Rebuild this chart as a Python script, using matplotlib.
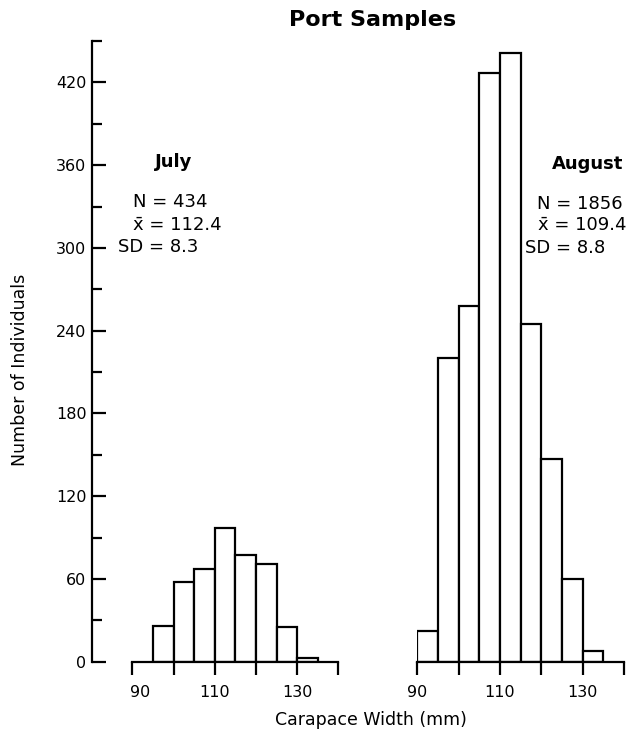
import matplotlib
matplotlib.use("Agg")
import matplotlib.pyplot as plt
from matplotlib.transforms import ScaledTranslation

# ---- data ----
july_bin_left = [95, 100, 105, 110, 115, 120, 125, 130]
july_counts = [26, 58, 67, 97, 77, 71, 25, 3]
aug_bin_left = [90, 95, 100, 105, 110, 115, 120, 125, 130]
aug_counts = [22, 220, 258, 427, 441, 245, 147, 60, 8]
bin_width = 5

x_ticks = [90, 100, 110, 120, 130, 140]
x_ticklabels = ["90", "", "110", "", "130", ""]
y_major = [0, 60, 120, 180, 240, 300, 360, 420]
y_minor = [30, 90, 150, 210, 270, 330, 390, 450]

july_stats = ["July", "N = 434", "x\u0304 = 112.4", "SD = 8.3"]
aug_stats = ["August", "N = 1856", "x\u0304 = 109.4", "SD = 8.8"]

plt.rcParams["font.family"] = ["DejaVu Sans"]

W, H = 643, 733
fig = plt.figure(figsize=(W / 100, H / 100), dpi=100)
fig.patch.set_facecolor("white")

TOP, BOT = 41, 661.7


def px_axes(x0, x1):
    return fig.add_axes([x0 / W, 1 - BOT / H, (x1 - x0) / W, (BOT - TOP) / H])


LW = 1.6

# y axis (separate spine)
ax_y = px_axes(92, 93)
ax_y.set_ylim(0, 450)
for s in ["top", "right", "bottom"]:
    ax_y.spines[s].set_visible(False)
ax_y.spines["left"].set_linewidth(LW)
ax_y.set_xticks([])
ax_y.set_yticks(y_major)
ax_y.set_yticks(y_minor, minor=True)
ax_y.tick_params(axis="y", which="major", direction="in", length=10, width=LW,
                 pad=4, labelsize=11.5)
ax_y.tick_params(axis="y", which="minor", direction="in", length=7, width=LW)
ax_y.patch.set_alpha(0)


def panel(x0, x1, lefts, counts):
    ax = px_axes(x0, x1)
    ax.patch.set_alpha(0)
    ax.bar(lefts, counts, width=bin_width, align="edge", facecolor="white",
           edgecolor="black", linewidth=LW, zorder=2)
    ax.set_xlim(90, 140)
    ax.set_ylim(0, 450)
    for s in ["top", "right", "left"]:
        ax.spines[s].set_visible(False)
    ax.spines["bottom"].set_linewidth(LW)
    ax.spines["bottom"].set_zorder(3)
    ax.set_yticks([])
    ax.set_xticks(x_ticks)
    ax.set_xticklabels(x_ticklabels)
    ax.tick_params(axis="x", direction="out", length=9, width=LW, pad=8,
                   labelsize=11.5)
    return ax


ax1 = panel(132.3, 338.3, july_bin_left, july_counts)
ax2 = panel(417.3, 624, aug_bin_left, aug_counts)

# the "90" label of the July panel sits a little right of its tick
lab = ax1.get_xticklabels()[0]
lab.set_transform(lab.get_transform() + ScaledTranslation(8 / 100, 0, fig.dpi_scale_trans))


def ftext(x, y, s, **kw):
    fig.text(x / W, 1 - y / H, s, va="center", **kw)


# annotations
ftext(174, 162, july_stats[0], ha="center", fontsize=13, fontweight="bold")
ftext(133, 202, july_stats[1], ha="left", fontsize=13)
ftext(133, 225, july_stats[2], ha="left", fontsize=13)
ftext(118, 247, july_stats[3], ha="left", fontsize=13)

ftext(588, 164, aug_stats[0], ha="center", fontsize=13, fontweight="bold")
ftext(537, 204, aug_stats[1], ha="left", fontsize=13)
ftext(538, 225, aug_stats[2], ha="left", fontsize=13)
ftext(525, 248, aug_stats[3], ha="left", fontsize=13)

# title and axis labels
ftext(373, 20, "Port Samples", ha="center", fontsize=16, fontweight="bold")
ftext(371, 720, "Carapace Width (mm)", ha="center", fontsize=12.5)
fig.text(20 / W, 1 - 370 / H, "Number of Individuals", ha="center",
         va="center", rotation=90, fontsize=12.5)

fig.savefig("out.png", dpi=100, facecolor="white")
